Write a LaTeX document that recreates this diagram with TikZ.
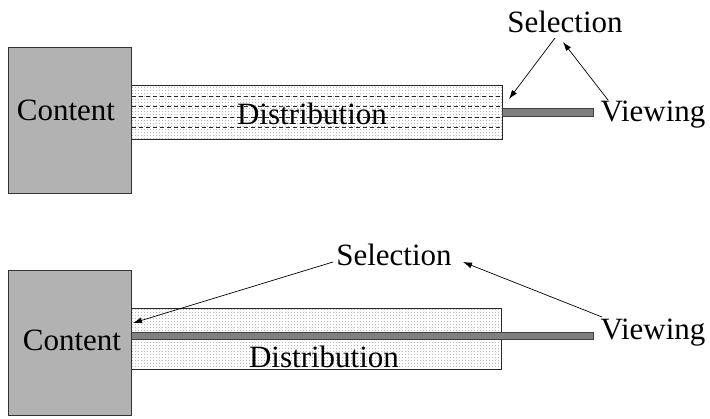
\documentclass[tikz,border=0pt]{standalone}
\usepackage{fontspec}
\setmainfont{Liberation Serif}
\usetikzlibrary{patterns.meta,arrows.meta}

% fine grid of dots used as the texture of the distribution bands
\tikzdeclarepattern{
  name=finedots,
  type=uncolored,
  bounding box={(0,0) and (3pt,3pt)},
  tile size={(3pt,3pt)},
  code={\fill (0,0) rectangle (1pt,1pt);}
}

\tikzset{
  contentbox/.style={draw=black!80, line width=1pt, fill=black!30},
  band/.style={draw=black!85, line width=0.9pt, pattern={finedots}, pattern color=black!28},
  viewbar/.style={draw=black!75, line width=0.7pt, fill=black!50},
  lbl/.style={font=\fontsize{31}{33}\selectfont, inner sep=0pt},
  chan/.style={dash pattern=on 4pt off 3pt, line width=1pt, black!85},
  pointer/.style={line width=0.7pt, -{Latex[length=9pt,width=6pt]}}
}

\begin{document}
\begin{tikzpicture}[x=1pt,y=-1pt]
\useasboundingbox (0,0) rectangle (710,418);

% ---------- upper scheme ----------
\fill[white] (131,85) rectangle (502,139);
\draw[band] (131,85) rectangle (502,139);
\foreach \yy in {96,106,117,127}
  \draw[chan] (132,\yy) -- (501,\yy);
\draw[viewbar] (502,108) rectangle (593,116);
\draw[contentbox] (8,47) rectangle (131,193);

\node[lbl] (content1) at (66,110) {Content};
\node[lbl] (dist1) at (312,114) {Distribution};
\node[lbl] (sel1) at (565,22) {Selection};
\node[lbl] (view1) at (653,115) {Viewing};
\coordinate (sel1out) at (555,38);
\coordinate (sel1in) at (563,42);
\coordinate (view1out) at (608,100);
\coordinate (bandend1) at (509,99);

\draw[pointer] (sel1out) -- (bandend1);
\draw[pointer] (view1out) -- (sel1in);

% ---------- lower scheme ----------
\fill[white] (131,308) rectangle (501,369);
\draw[band] (131,308) rectangle (501,369);
\draw[viewbar] (131,332) rectangle (593,339);
\draw[contentbox] (8,270) rectangle (131,415);

\node[lbl] (content2) at (72,340) {Content};
\node[lbl] (dist2) at (324,357) {Distribution};
\node[lbl] (sel2) at (394,255) {Selection};
\node[lbl] (view2) at (653,333) {Viewing};
\coordinate (sel2out) at (333,262);
\coordinate (sel2in) at (463,262);
\coordinate (view2out) at (602,317);
\coordinate (contentedge) at (133,323);

\draw[pointer] (sel2out) -- (contentedge);
\draw[pointer] (view2out) -- (sel2in);
\end{tikzpicture}
\end{document}
